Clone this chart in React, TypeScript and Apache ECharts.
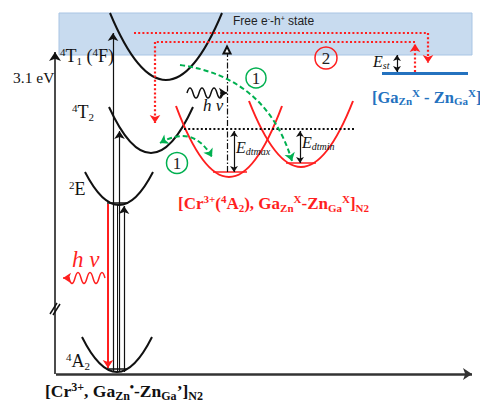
import React, { useEffect, useRef } from "react";
import * as echarts from "echarts";

const SERIF = "Liberation Serif";
const SANS = "Liberation Sans";
const RED = "#ff1f1f";
const GREEN = "#00b050";
const BLUE = "#2472bf";
const BLACK = "#111111";

// Potential wells in configuration coordinate: [vertexX, vertexEnergy, halfWidth, rimEnergy]
// (energy measured downward in diagram units)
const crWells = [
  [166, 80, 56, 13], // 4T1
  [151, 153, 42, 107], // 4T2
  [119, 205, 34, 172], // 2E
  [117, 372, 35, 337], // 4A2
];
const trapWells = [
  [229, 177, 53, 106],
  [301, 167, 52, 101],
];
// Well floors: [xStart, xEnd, energy]
const crFloors = [
  [107, 128, 203],
  [107, 127, 369],
];
const trapFloors = [
  [213, 247, 172],
  [286, 316, 163],
];
// Excitation transitions from ground: [x, topEnergy]
const excitations = [
  [113, 33],
  [119.5, 131],
  [124, 206],
];
const groundEnergy = 372;
const emission = [108, 204, 368]; // x, from, to
const barrier = [184, 356, 129]; // xStart, xEnd, energy
const trapLevel = [382, 468, 73];
const band = [59, 472, 13, 55]; // x0, x1, top, bottom

// Texts
const txtBand = "{n|Free e}{p|-}{n|-h}{p|+}{n| state}";
const txt41 = "{p|4}{n|T}{b|1}{n| (}{p|4}{n|F)}";
const txt42 = "{p|4}{n|T}{b|2}";
const txt2E = "{p|2}{n|E}";
const txt4A = "{p|4}{n|A}{b|2}";
const txtEV = "{n|3.1 eV}";
const txtHv = "{n|h ν}";
const txtEdmax = "{n|E}{b|dtmax}";
const txtEdmin = "{n|E}{b|dtmin}";
const txtEst = "{n|E}{b|st}";
const txtBlue = "{n|[Ga}{b|Zn}{p|X}{n| - Zn}{b|Ga}{p|X}{n|]}";
const txtRed = "{n|[Cr}{p|3+}{n|(}{p|4}{n|A}{b|2}{n|), Ga}{b|Zn}{p|X}{n|-Zn}{b|Ga}{p|X}{n|]}{b|N2}";
const txtGround = "{n|[Cr}{p|3+}{n|, Ga}{b|Zn}{p|•}{n|-Zn}{b|Ga}{n|’]}{b|N2}";

const WAVE = "M0 0 Q3 -10 6 0 T12 0 T18 0 T24 0 T30 0 T36 0";

function richStyles(size: number, color: string, weight: string, fstyle: string, family: string, ratio: number) {
  const base = { fontSize: size, fontFamily: family, fontWeight: weight, fontStyle: fstyle, fill: color };
  const small = Math.round(size * ratio);
  const shift = Math.round(size * 0.5);
  return {
    n: base,
    p: { ...base, fontSize: small, padding: [0, 0, shift, 0] },
    b: { ...base, fontSize: small, padding: [shift, 0, 0, 0] },
  };
}

function txt(
  text: string,
  x: number,
  y: number,
  size: number,
  color: string,
  weight = "normal",
  fstyle = "normal",
  family = SERIF,
  align = "left",
  ratio = 0.62
) {
  return {
    type: "text",
    x,
    y,
    z: 100,
    silent: true,
    style: {
      text,
      rich: richStyles(size, color, weight, fstyle, family, ratio),
      fill: color,
      fontSize: size,
      fontFamily: family,
      fontWeight: weight,
      fontStyle: fstyle,
      align,
      verticalAlign: "middle",
      textAlign: align,
      textVerticalAlign: "middle",
    },
  };
}

const seg = (x1: number, y1: number, x2: number, y2: number, color: string, width: number, type: any = "solid") => ({
  coords: [
    [x1, y1],
    [x2, y2],
  ],
  lineStyle: { color, width, type, opacity: 1 },
});

const DOT = [2, 2.2];

function wellSeries(data: number[][], color: string) {
  return {
    type: "custom",
    coordinateSystem: "cartesian2d",
    data,
    clip: false,
    silent: true,
    z: 3,
    renderItem: (_p: any, api: any) => {
      const vx = api.value(0);
      const vy = api.value(1);
      const hw = api.value(2);
      const rim = api.value(3);
      const a = api.coord([vx - hw, rim]);
      const b = api.coord([vx + hw, rim]);
      const c = api.coord([vx, 2 * vy - rim]);
      return {
        type: "bezierCurve",
        shape: { x1: a[0], y1: a[1], x2: b[0], y2: b[1], cpx1: c[0], cpy1: c[1] },
        style: { stroke: color, lineWidth: 2, fill: "none" },
      };
    },
  };
}

function linesSeries(data: any[], symbol: any, symbolSize: number, curveness = 0) {
  return {
    type: "lines",
    coordinateSystem: "cartesian2d",
    silent: true,
    z: 4,
    symbol,
    symbolSize,
    lineStyle: { opacity: 1, curveness },
    data,
  };
}

function buildOption() {
  const plain = [
    seg(barrier[0], barrier[2], barrier[1], barrier[2], BLACK, 2, DOT),
    seg(134, 33, 428, 33, RED, 2.2, DOT),
    seg(415, 42, 155, 42, RED, 2.2, DOT),
    seg(trapLevel[0], trapLevel[2], trapLevel[1], trapLevel[2], BLUE, 3),
    ...crFloors.map((f) => seg(f[0], f[2], f[1], f[2], BLACK, 1.5)),
    ...trapFloors.map((f) => seg(f[0], f[2], f[1], f[2], RED, 1.5)),
    seg(117, groundEnergy, 117, 204, BLACK, 1),
    seg(50, 314, 57, 303, BLACK, 1.5),
    seg(53, 315, 60, 304, BLACK, 1.5),
  ];
  const axes = [seg(55, 374, 55, 52, BLACK, 1.5), seg(56, 374, 472, 374, "#333333", 2.5)];
  const arrows = [
    ...excitations.map((e) => seg(e[0], groundEnergy, e[0], e[1], BLACK, 1.2)),
    seg(emission[0], emission[1], emission[0], emission[2], RED, 2),
    seg(428, 33, 428, 63, RED, 2.2, DOT),
    seg(415, 72, 415, 44, RED, 2.2, DOT),
    seg(155, 42, 155, 123, RED, 2.2, DOT),
    seg(220, 93, 227, 93, BLACK, 1.5),
    seg(70, 278, 63, 278, RED, 1.5),
  ];
  const dashDot = [seg(227, 172, 227, 50, BLACK, 1.2, [6, 2, 1.5, 2])];
  const doubles = [
    seg(234, 131, 234, 172, BLACK, 1.2),
    seg(300, 131, 300, 163, BLACK, 1.2),
    seg(397, 55, 397, 72, BLACK, 1.2),
  ];
  const greenLong = [seg(180, 65, 292, 161, GREEN, 2, [5, 3])];
  const greenShort = [seg(160, 143, 212, 157, GREEN, 2, [5, 3])];

  const circle = (cx: number, cy: number, r: number, color: string) => ({
    type: "circle",
    z: 90,
    silent: true,
    shape: { cx, cy, r },
    style: { stroke: color, lineWidth: 1.5, fill: "rgba(255,255,255,0)" },
  });

  return {
    animation: false,
    grid: { left: 0, right: 0, top: 0, bottom: 0 },
    xAxis: { type: "value", min: 0, max: 480, show: false },
    yAxis: { type: "value", min: 0, max: 403, inverse: true, show: false },
    series: [
      wellSeries(crWells, BLACK),
      wellSeries(trapWells, RED),
      linesSeries(plain, "none", 6),
      linesSeries(axes, ["none", "arrow"], 9),
      linesSeries(arrows, ["none", "arrow"], 8),
      linesSeries(dashDot, ["none", "emptyTriangle"], 7),
      linesSeries(doubles, ["arrow", "arrow"], 6),
      linesSeries(greenLong, ["none", "arrow"], 8, 0.32),
      linesSeries(greenShort, ["arrow", "arrow"], 8, 0.5),
    ],
    graphic: [
      {
        type: "rect",
        z: 0,
        silent: true,
        shape: { x: band[0], y: band[2], width: band[1] - band[0], height: band[3] - band[2] },
        style: { fill: "#c8dbef", stroke: "#a9c5e4", lineWidth: 1 },
      },
      { type: "wave", x: 187, y: 93, silent: true, z: 90, style: { stroke: BLACK, lineWidth: 1.5, fill: "none" } },
      {
        type: "wave",
        x: 105,
        y: 278,
        scaleX: -1,
        scaleY: 1.1,
        silent: true,
        z: 90,
        style: { stroke: RED, lineWidth: 1.5, fill: "none" },
      },
      circle(256, 78, 10, GREEN),
      circle(177, 163, 10.5, GREEN),
      circle(326, 58, 11, RED),
      txt("{n|1}", 256, 78, 17, "#222", "normal", "normal", SERIF, "center"),
      txt("{n|1}", 177, 163, 17, "#222", "normal", "normal", SERIF, "center"),
      txt("{n|2}", 326, 58, 17, "#222", "normal", "normal", SERIF, "center"),
      txt(txtBand, 233, 21, 12, "#222", "normal", "normal", SANS),
      txt(txtEV, 13, 77, 15.5, BLACK),
      txt(txt41, 60, 56, 18, BLACK),
      txt(txt42, 72, 112, 18, BLACK),
      txt(txt2E, 69, 189, 18, BLACK),
      txt(txt4A, 66, 361, 18, BLACK),
      txt(txtHv, 203, 105, 17, BLACK, "normal", "italic"),
      txt(txtHv, 72, 259, 23, RED, "normal", "italic"),
      txt(txtEdmax, 236, 147, 16, BLACK, "normal", "italic"),
      txt(txtEdmin, 302, 142, 16, BLACK, "normal", "italic"),
      txt(txtEst, 373, 61, 16, BLACK, "normal", "italic"),
      txt(txtBlue, 372, 97, 16.5, BLUE, "bold", "normal", SERIF, "left", 0.66),
      txt(txtRed, 178, 203, 17, RED, "bold", "normal", SERIF, "left", 0.66),
      txt(txtGround, 45, 391, 17.5, BLACK, "bold", "normal", SERIF, "left", 0.66),
    ],
  };
}

export default function App() {
  const ref = useRef<HTMLDivElement>(null);
  useEffect(() => {
    document.body.style.margin = "0";
    echarts.graphic.registerShape("wave", echarts.graphic.extendPath(WAVE, {}) as any);
    const chart = echarts.init(ref.current as HTMLDivElement, null, { renderer: "svg" });
    chart.setOption(buildOption() as any);
    return () => chart.dispose();
  }, []);
  return <div ref={ref} style={{ position: "absolute", left: 0, top: 0, width: 480, height: 403, background: "#fff" }} />;
}
